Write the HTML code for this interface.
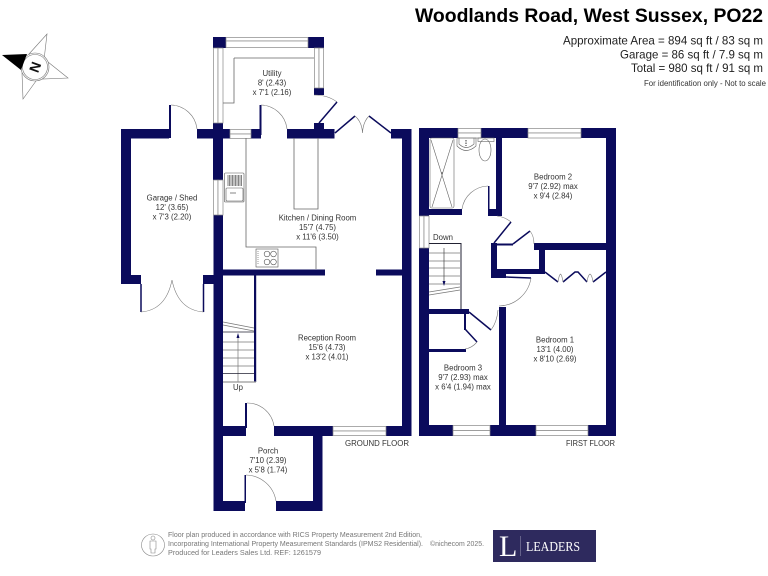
<!DOCTYPE html>
<html><head><meta charset="utf-8"><style>
html,body{margin:0;padding:0;background:#fff;width:768px;height:576px;overflow:hidden}
svg{display:block}
text{font-family:"Liberation Sans",sans-serif}
.l{font-size:7.8px;fill:#333;text-anchor:middle}
.w{fill:#0b0b5c}
.win{fill:#fff;stroke:#888;stroke-width:.7}
.t{fill:none;stroke:#777;stroke-width:.6}
.k{fill:none;stroke:#666;stroke-width:.8}
.d{fill:none;stroke:#0b0b5c;stroke-width:1.5}
.s{fill:none;stroke:#777;stroke-width:.7}
</style></head><body>
<svg width="768" height="576" viewBox="0 0 768 576" xmlns="http://www.w3.org/2000/svg">
<rect width="768" height="576" fill="#fff"/>

<!-- Header -->
<text x="415" y="22" font-size="19" font-weight="bold" fill="#000" textLength="348" lengthAdjust="spacingAndGlyphs">Woodlands Road, West Sussex, PO22</text>
<text x="563" y="44.500" font-size="12" fill="#222" textLength="200" lengthAdjust="spacingAndGlyphs">Approximate Area = 894 sq ft / 83 sq m</text>
<text x="620" y="58.500" font-size="12" fill="#222" textLength="143" lengthAdjust="spacingAndGlyphs">Garage = 86 sq ft / 7.9 sq m</text>
<text x="631" y="72" font-size="12" fill="#222" textLength="132" lengthAdjust="spacingAndGlyphs">Total = 980 sq ft / 91 sq m</text>
<text x="644" y="86" font-size="8" fill="#333" textLength="122" lengthAdjust="spacingAndGlyphs">For identification only - Not to scale</text>

<!-- Compass -->
<g fill="none" stroke="#777" stroke-width=".6">
<path d="M29 54 L47 34 L44 60 Z"/>
<path d="M48 62 L68 78 L42 79 Z"/>
<path d="M22 73 L23 99 L36 81 Z"/>
<circle cx="35" cy="67" r="14" fill="#fff"/>
<circle cx="35" cy="67" r="12.500"/>
</g>
<path d="M2 55 L27 54 L21 70 Z" fill="#000"/>
<text x="35" y="67" font-size="14" font-weight="bold" fill="#111" text-anchor="middle" dominant-baseline="central" transform="rotate(-70 35 67)">N</text>

<!-- Ground floor walls -->
<g class="w">
<rect x="121" y="129" width="48" height="9.500"/>
<rect x="121" y="129" width="10" height="155"/>
<rect x="121" y="275" width="20" height="9"/>
<rect x="203" y="275" width="11" height="9"/>
<rect x="169" y="105" width="2" height="33"/>
<rect x="197" y="129" width="33" height="9.500"/>
<rect x="213" y="123" width="10" height="57"/>
<rect x="213.500" y="215" width="9.500" height="296"/>
<rect x="213" y="37" width="13" height="11"/>
<rect x="308" y="37" width="16" height="11"/>
<rect x="314" y="88" width="10" height="7"/>
<rect x="251" y="129" width="10" height="9.500"/>
<rect x="259.500" y="105" width="2" height="30"/>
<rect x="287" y="129" width="47.500" height="9.500"/>
<rect x="314" y="123" width="10" height="7"/>
<rect x="391" y="129" width="20" height="9.500"/>
<rect x="402" y="129" width="9.500" height="307"/>
<rect x="214" y="269.500" width="111" height="6"/>
<rect x="376" y="269.500" width="27" height="6"/>
<rect x="254" y="275" width="2.200" height="107"/>
<rect x="223" y="426" width="23" height="10"/>
<rect x="245" y="403" width="2" height="25"/>
<rect x="274" y="426" width="59" height="10"/>
<rect x="386" y="426" width="25" height="10"/>
<rect x="313" y="434" width="9.500" height="77"/>
<rect x="214" y="501" width="31" height="10"/>
<rect x="276" y="501" width="46.500" height="10"/>
<rect x="244.500" y="475" width="1.500" height="28"/>
</g>

<!-- Ground floor windows -->
<g class="win">
<rect x="226" y="37.500" width="82" height="3.500"/><rect x="226" y="41" width="82" height="6.500"/>
<rect x="213.500" y="48" width="4.500" height="75"/><rect x="218" y="48" width="5" height="75"/>
<rect x="314.500" y="48" width="4.500" height="40"/><rect x="319" y="48" width="4.500" height="40"/>
<rect x="230" y="129.500" width="21" height="4.500"/><rect x="230" y="134" width="21" height="4.500"/>
<rect x="213.500" y="180" width="4.500" height="35"/><rect x="218" y="180" width="5" height="35"/>
<rect x="333" y="426.500" width="53" height="4.500"/><rect x="333" y="431" width="53" height="4.500"/>
</g>

<!-- Ground floor inner lines -->
<path class="k" d="M234 58H314M234 58V103H223"/>
<path class="k" d="M246 138V247H316V269"/>
<path class="k" d="M294 138V209H318V138"/>

<!-- Ground floor doors -->
<path class="t" d="M171 105A27 27 0 0 1 197 129"/>
<path class="t" d="M261 105A27 27 0 0 1 287 129"/>
<path class="t" d="M314 95Q328 95 337 102"/>
<path class="d" d="M319 123L337 102"/>
<path class="d" d="M335 133L355 116M391 133L369 116"/>
<path class="t" d="M355 116Q362 122 362.500 133M369 116Q363 122 362.500 133"/>
<path class="d" d="M141 284V312M203.500 284V312" stroke-width="1"/>
<path class="t" d="M141 312Q166 310 172 280M203.500 312Q178 310 172 280"/>
<path class="t" d="M247 403A27 27 0 0 1 274 426"/>
<path class="t" d="M246 475A31 31 0 0 1 276 501"/>

<!-- Ground stairs -->
<g class="s">
<path d="M223 322L254 328M223 325L254 331"/>
<path d="M223 342H254M223 350H254M223 358H254M223 366H254"/>
<path d="M238 335V382"/>
<path d="M223 382H256" stroke="#999" stroke-width="1.200"/>
</g>
<path d="M223 332H254M223 373.500H254" stroke="#223" stroke-width=".8" fill="none"/>
<path d="M238 333L236.500 338H239.500Z" fill="#0b0b5c"/>

<!-- Sink -->
<g fill="none" stroke="#555" stroke-width=".6">
<rect x="224.500" y="173" width="19.500" height="29" rx="1"/>
<rect x="226" y="188" width="17" height="13" rx="1"/>
<path d="M228 175V186M229.500 175V186M231 175V186M232.500 175V186M234 175V186M235.500 175V186M237 175V186M238.500 175V186M240 175V186M241.500 175V186" stroke="#333"/>
<path d="M230 193H236" stroke="#333"/>
<!-- Hob -->
<rect x="256" y="249" width="22" height="18"/>
<circle cx="267" cy="254" r="2.800"/><circle cx="273.500" cy="254" r="2.800"/>
<circle cx="267" cy="262" r="2.800"/><circle cx="273.500" cy="262" r="2.800"/>
<path d="M258 251V265" stroke-dasharray="1 1"/>
</g>

<!-- First floor walls -->
<g class="w">
<rect x="419" y="128" width="39" height="10"/>
<rect x="481" y="128" width="47" height="10"/>
<rect x="581" y="128" width="35" height="10"/>
<rect x="419" y="128" width="10" height="88"/>
<rect x="419" y="248" width="10" height="188"/>
<rect x="606" y="128" width="10" height="308"/>
<rect x="429" y="209" width="33" height="6"/>
<rect x="496" y="138" width="6" height="78"/>
<rect x="488" y="186" width="1.500" height="24"/>
<rect x="488" y="209" width="14" height="7"/>
<rect x="534" y="243" width="72" height="7"/>
<rect x="491" y="243" width="6" height="31"/>
<rect x="497" y="243.500" width="16" height="2"/>
<rect x="539" y="245" width="6" height="29"/>
<rect x="491" y="269" width="54" height="5"/>
<rect x="491" y="274" width="15" height="4"/>
<rect x="429" y="309" width="40" height="5"/>
<rect x="464" y="314" width="2" height="16"/>
<rect x="429" y="349" width="37" height="3"/>
<rect x="499" y="307" width="7" height="118"/>
<rect x="419" y="425" width="34" height="11"/>
<rect x="490" y="425" width="46" height="11"/>
<rect x="588" y="425" width="28" height="11"/>
</g>
<g class="win">
<rect x="458" y="128.500" width="23" height="4.500"/><rect x="458" y="133" width="23" height="5"/>
<rect x="528" y="128.500" width="53" height="4.500"/><rect x="528" y="133" width="53" height="5"/>
<rect x="419.500" y="216" width="4.500" height="32"/><rect x="424" y="216" width="5" height="32"/>
<rect x="453" y="425.500" width="37" height="5"/><rect x="453" y="430.500" width="37" height="5"/>
<rect x="536" y="425.500" width="52" height="5"/><rect x="536" y="430.500" width="52" height="5"/>
</g>

<!-- Bathroom -->
<g fill="none" stroke="#666" stroke-width=".6">
<rect x="430" y="138" width="24" height="70" rx="2"/>
<path d="M431 140L452 207M453 140L432 207"/>
<path d="M457 138V146Q466 155 476 146V138Z"/>
<path d="M459 138V144Q466 151 474 144V138"/>
<rect x="478" y="138" width="16" height="3.500"/>
<ellipse cx="485" cy="150" rx="6" ry="11"/>
</g>
<circle cx="442" cy="173" r=".8" fill="#555"/>
<path d="M466 140V146" stroke="#333" stroke-dasharray="1.500 1" fill="none"/>

<!-- First floor doors -->
<path class="t" d="M488 186A27 27 0 0 0 462 209"/>
<path class="t" d="M497 216Q505 217 511 222"/>
<path class="d" d="M511 222L494 243"/>
<path class="d" d="M513 244L530 231"/>
<path class="t" d="M530 231Q534 236 534 244"/>
<path class="d" d="M506 277L531 278" stroke-width="1"/>
<path class="t" d="M531 278A33 33 0 0 1 499 306"/>
<path class="d" d="M469 312L491 330"/>
<path class="t" d="M491 330Q497 322 498 310"/>
<path class="d" d="M465 329L477 342"/>
<path class="t" d="M477 342Q472 348 465 349"/>
<path class="d" d="M545 272L558 282M563 282L575 272H578L587 282M593 282L606 272" stroke-width="1.300"/>
<path class="t" d="M558 282Q559 275 560.500 274Q562 275 563 282M587 282Q588 275 590 274Q592 275 593 282"/>

<!-- First floor stairs -->
<path d="M429 243.500H461V309" fill="none" stroke="#223" stroke-width="1"/>
<g class="s">
<path d="M429 253H460M429 261H460M429 268H460M429 276H460M429 284H460"/>
<path d="M429 292L460 287M429 295L460 290"/>
<path d="M444 248V284" stroke="#444"/>
</g>
<path d="M444 286L442.500 281H445.500Z" fill="#0b0b5c"/>

<!-- Labels -->
<g class="l">
<text x="272" y="76">Utility</text><text x="272" y="85.500">8' (2.43)</text><text x="272" y="95">x 7'1 (2.16)</text>
<text x="172" y="200.500">Garage / Shed</text><text x="172" y="210">12' (3.65)</text><text x="172" y="219.500">x 7'3 (2.20)</text>
<text x="317.500" y="220.500">Kitchen / Dining Room</text><text x="317.500" y="230">15'7 (4.75)</text><text x="317.500" y="239.500">x 11'6 (3.50)</text>
<text x="327" y="340.500">Reception Room</text><text x="327" y="350">15'6 (4.73)</text><text x="327" y="359.500">x 13'2 (4.01)</text>
<text x="268" y="453.500">Porch</text><text x="268" y="463">7'10 (2.39)</text><text x="268" y="472.500">x 5'8 (1.74)</text>
<text x="553" y="179.500">Bedroom 2</text><text x="553" y="189">9'7 (2.92) max</text><text x="553" y="198.500">x 9'4 (2.84)</text>
<text x="555" y="342.500">Bedroom 1</text><text x="555" y="352">13'1 (4.00)</text><text x="555" y="361.500">x 8'10 (2.69)</text>
<text x="463" y="370.500">Bedroom 3</text><text x="463" y="380">9'7 (2.93) max</text><text x="463" y="389.500">x 6'4 (1.94) max</text>
<text x="443" y="240">Down</text>
<text x="238" y="390">Up</text>
</g>
<text x="345" y="446" font-size="8.500" fill="#333" textLength="64" lengthAdjust="spacingAndGlyphs">GROUND FLOOR</text>
<text x="566" y="446" font-size="8.500" fill="#333" textLength="49" lengthAdjust="spacingAndGlyphs">FIRST FLOOR</text>

<!-- Footer -->
<g fill="none" stroke="#888" stroke-width=".6">
<ellipse cx="153" cy="545" rx="11.500" ry="11"/>
<circle cx="153" cy="538" r="2"/>
<path d="M150 541H156V549H155V553H151V549H150Z"/>
</g>
<g font-size="7" fill="#777">
<text x="168" y="537" textLength="254" lengthAdjust="spacingAndGlyphs">Floor plan produced in accordance with RICS Property Measurement 2nd Edition,</text>
<text x="168" y="546" textLength="255" lengthAdjust="spacingAndGlyphs">Incorporating International Property Measurement Standards (IPMS2 Residential).</text>
<text x="168" y="555" textLength="153" lengthAdjust="spacingAndGlyphs">Produced for Leaders Sales Ltd.   REF:  1261579</text>
<text x="430" y="546" textLength="54" lengthAdjust="spacingAndGlyphs">©nichecom 2025.</text>
</g>
<rect x="493" y="530" width="103" height="32" fill="#2e2a5e"/>
<text x="499" y="556" style="font-family:'Liberation Serif',serif" font-size="30" fill="#fff">L</text>
<rect x="520" y="536" width=".6" height="20" fill="#8a88a8"/>
<text x="526" y="551" style="font-family:'Liberation Serif',serif" font-size="14" fill="#fff" textLength="54" lengthAdjust="spacingAndGlyphs">LEADERS</text>
</svg>
</body></html>
